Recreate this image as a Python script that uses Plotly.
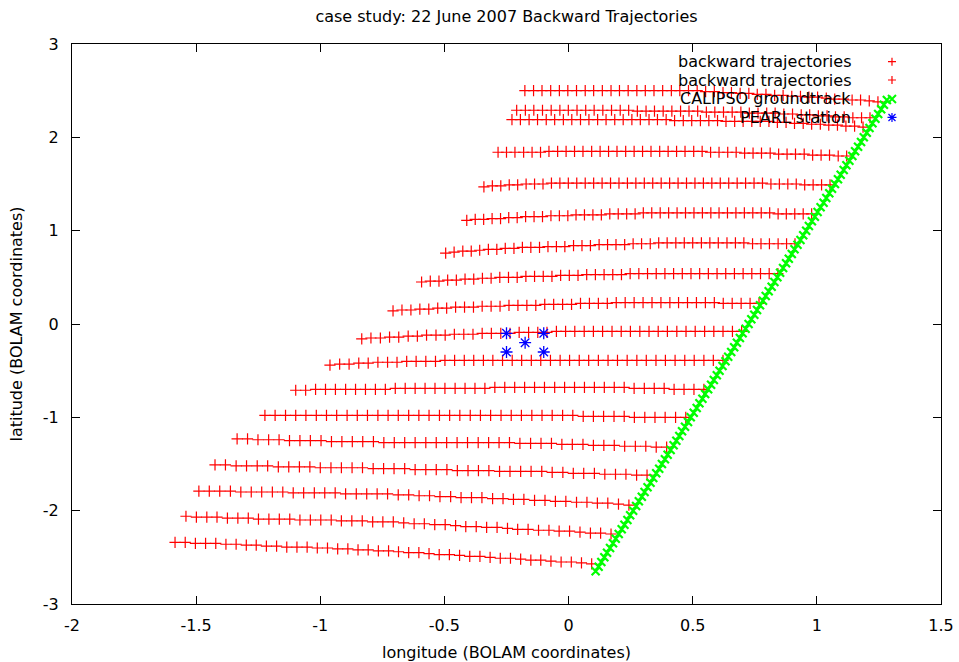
import plotly.graph_objects as go

# ---------------- data ----------------
r01x = [-0.176, -0.141, -0.107, -0.072, -0.037, -0.003, 0.032, 0.067, 0.101, 0.136, 0.171, 0.205, 0.240, 0.275, 0.309, 0.344, 0.379, 0.414, 0.448, 0.483, 0.518, 0.552, 0.587, 0.622, 0.656, 0.691, 0.726, 0.760, 0.795, 0.830, 0.864, 0.899, 0.934, 0.968, 1.003, 1.038, 1.072, 1.107, 1.142, 1.176, 1.211, 1.246]
r01y = [2.50, 2.50, 2.50, 2.50, 2.50, 2.50, 2.50, 2.50, 2.50, 2.50, 2.50, 2.50, 2.50, 2.50, 2.50, 2.50, 2.50, 2.50, 2.50, 2.50, 2.50, 2.49, 2.49, 2.48, 2.48, 2.47, 2.47, 2.46, 2.46, 2.45, 2.45, 2.44, 2.44, 2.43, 2.43, 2.42, 2.41, 2.41, 2.40, 2.40, 2.39, 2.38]

r02x = [-0.209, -0.174, -0.140, -0.105, -0.070, -0.035, -0.001, 0.034, 0.069, 0.103, 0.138, 0.173, 0.208, 0.242, 0.277, 0.312, 0.346, 0.381, 0.416, 0.451, 0.485, 0.520, 0.555, 0.589, 0.624, 0.659, 0.694, 0.728, 0.763, 0.798, 0.832, 0.867, 0.902, 0.937, 0.971, 1.006, 1.041, 1.075, 1.110, 1.145, 1.180, 1.214]
r02y = [2.29, 2.29, 2.29, 2.29, 2.29, 2.29, 2.29, 2.29, 2.29, 2.29, 2.29, 2.29, 2.29, 2.29, 2.28, 2.28, 2.28, 2.28, 2.28, 2.28, 2.28, 2.28, 2.27, 2.27, 2.27, 2.27, 2.27, 2.26, 2.26, 2.26, 2.26, 2.25, 2.25, 2.24, 2.24, 2.23, 2.23, 2.22, 2.22, 2.21, 2.21, 2.21]

r03x = [-0.228, -0.194, -0.159, -0.125, -0.090, -0.056, -0.021, 0.013, 0.048, 0.082, 0.117, 0.151, 0.186, 0.220, 0.255, 0.289, 0.324, 0.358, 0.393, 0.427, 0.462, 0.496, 0.531, 0.565, 0.600, 0.634, 0.669, 0.703, 0.738, 0.772, 0.807, 0.841, 0.876, 0.910, 0.945, 0.979, 1.014, 1.048, 1.083, 1.117, 1.152, 1.186]
r03y = [2.19, 2.19, 2.19, 2.19, 2.19, 2.19, 2.19, 2.19, 2.19, 2.19, 2.19, 2.19, 2.19, 2.19, 2.19, 2.19, 2.19, 2.19, 2.19, 2.18, 2.18, 2.18, 2.18, 2.18, 2.18, 2.17, 2.17, 2.17, 2.17, 2.17, 2.17, 2.16, 2.16, 2.15, 2.15, 2.14, 2.14, 2.13, 2.13, 2.12, 2.12, 2.11]

r04x = [-0.284, -0.250, -0.216, -0.181, -0.147, -0.113, -0.079, -0.044, -0.010, 0.024, 0.058, 0.093, 0.127, 0.161, 0.195, 0.230, 0.264, 0.298, 0.332, 0.367, 0.401, 0.435, 0.469, 0.504, 0.538, 0.572, 0.606, 0.641, 0.675, 0.709, 0.743, 0.777, 0.812, 0.846, 0.880, 0.914, 0.949, 0.983, 1.017, 1.051, 1.086, 1.120]
r04y = [1.84, 1.84, 1.84, 1.84, 1.84, 1.84, 1.85, 1.85, 1.85, 1.85, 1.85, 1.85, 1.85, 1.85, 1.85, 1.85, 1.85, 1.85, 1.85, 1.85, 1.85, 1.85, 1.85, 1.85, 1.85, 1.84, 1.84, 1.84, 1.84, 1.83, 1.83, 1.83, 1.83, 1.82, 1.82, 1.82, 1.82, 1.81, 1.81, 1.81, 1.80, 1.80]

r05x = [-0.341, -0.307, -0.273, -0.239, -0.205, -0.171, -0.137, -0.103, -0.069, -0.035, -0.001, 0.033, 0.067, 0.101, 0.135, 0.169, 0.203, 0.237, 0.271, 0.305, 0.339, 0.373, 0.407, 0.441, 0.475, 0.509, 0.543, 0.577, 0.611, 0.645, 0.679, 0.713, 0.747, 0.781, 0.815, 0.849, 0.883, 0.917, 0.951, 0.985, 1.019, 1.053]
r05y = [1.47, 1.48, 1.48, 1.49, 1.49, 1.50, 1.50, 1.50, 1.51, 1.51, 1.51, 1.51, 1.51, 1.51, 1.51, 1.51, 1.51, 1.51, 1.51, 1.51, 1.51, 1.51, 1.51, 1.51, 1.51, 1.51, 1.51, 1.51, 1.51, 1.51, 1.51, 1.51, 1.51, 1.51, 1.50, 1.50, 1.50, 1.50, 1.49, 1.49, 1.49, 1.49]

r06x = [-0.410, -0.376, -0.342, -0.308, -0.274, -0.241, -0.207, -0.173, -0.139, -0.105, -0.071, -0.037, -0.003, 0.030, 0.064, 0.098, 0.132, 0.166, 0.200, 0.234, 0.268, 0.301, 0.335, 0.369, 0.403, 0.437, 0.471, 0.505, 0.539, 0.573, 0.606, 0.640, 0.674, 0.708, 0.742, 0.776, 0.810, 0.844, 0.877, 0.911, 0.945, 0.979]
r06y = [1.11, 1.12, 1.12, 1.13, 1.13, 1.14, 1.14, 1.15, 1.15, 1.15, 1.16, 1.16, 1.16, 1.17, 1.17, 1.17, 1.17, 1.18, 1.18, 1.18, 1.18, 1.19, 1.19, 1.19, 1.19, 1.19, 1.19, 1.19, 1.19, 1.19, 1.19, 1.19, 1.19, 1.19, 1.19, 1.19, 1.19, 1.18, 1.18, 1.18, 1.18, 1.18]

r07x = [-0.495, -0.461, -0.426, -0.392, -0.358, -0.323, -0.289, -0.255, -0.220, -0.186, -0.152, -0.117, -0.083, -0.049, -0.015, 0.020, 0.054, 0.088, 0.123, 0.157, 0.191, 0.226, 0.260, 0.294, 0.329, 0.363, 0.397, 0.432, 0.466, 0.500, 0.535, 0.569, 0.603, 0.638, 0.672, 0.706, 0.741, 0.775, 0.809, 0.844, 0.878, 0.912]
r07y = [0.76, 0.77, 0.78, 0.78, 0.79, 0.80, 0.80, 0.81, 0.81, 0.82, 0.82, 0.82, 0.83, 0.83, 0.83, 0.84, 0.84, 0.84, 0.85, 0.85, 0.85, 0.85, 0.86, 0.86, 0.86, 0.87, 0.87, 0.87, 0.87, 0.87, 0.87, 0.87, 0.87, 0.87, 0.87, 0.87, 0.86, 0.86, 0.86, 0.86, 0.86, 0.86]

r08x = [-0.592, -0.557, -0.522, -0.487, -0.452, -0.417, -0.382, -0.347, -0.312, -0.277, -0.242, -0.207, -0.172, -0.137, -0.102, -0.067, -0.032, 0.003, 0.038, 0.073, 0.108, 0.143, 0.178, 0.213, 0.248, 0.283, 0.318, 0.353, 0.388, 0.423, 0.458, 0.493, 0.528, 0.563, 0.598, 0.633, 0.668, 0.703, 0.738, 0.773, 0.808, 0.843]
r08y = [0.45, 0.46, 0.46, 0.47, 0.47, 0.48, 0.48, 0.49, 0.49, 0.50, 0.50, 0.50, 0.51, 0.51, 0.51, 0.51, 0.52, 0.52, 0.52, 0.53, 0.53, 0.53, 0.53, 0.53, 0.54, 0.54, 0.54, 0.54, 0.54, 0.54, 0.54, 0.54, 0.54, 0.54, 0.54, 0.54, 0.54, 0.54, 0.54, 0.54, 0.54, 0.54]

r09x = [-0.707, -0.671, -0.635, -0.599, -0.563, -0.527, -0.491, -0.455, -0.419, -0.383, -0.348, -0.312, -0.276, -0.240, -0.204, -0.168, -0.132, -0.096, -0.060, -0.024, 0.012, 0.048, 0.084, 0.120, 0.156, 0.192, 0.228, 0.264, 0.300, 0.336, 0.372, 0.408, 0.443, 0.479, 0.515, 0.551, 0.587, 0.623, 0.659, 0.695, 0.731, 0.767]
r09y = [0.14, 0.15, 0.15, 0.16, 0.16, 0.17, 0.17, 0.18, 0.18, 0.18, 0.19, 0.19, 0.19, 0.20, 0.20, 0.20, 0.20, 0.21, 0.21, 0.21, 0.21, 0.22, 0.22, 0.22, 0.22, 0.23, 0.23, 0.23, 0.23, 0.23, 0.23, 0.23, 0.23, 0.23, 0.23, 0.23, 0.23, 0.22, 0.22, 0.22, 0.22, 0.22]

r10x = [-0.833, -0.796, -0.758, -0.721, -0.684, -0.646, -0.609, -0.572, -0.534, -0.497, -0.460, -0.422, -0.385, -0.348, -0.311, -0.273, -0.236, -0.199, -0.161, -0.124, -0.087, -0.049, -0.012, 0.025, 0.063, 0.100, 0.137, 0.175, 0.212, 0.249, 0.287, 0.324, 0.361, 0.398, 0.436, 0.473, 0.510, 0.548, 0.585, 0.622, 0.660, 0.697]
r10y = [-0.16, -0.15, -0.15, -0.14, -0.14, -0.13, -0.13, -0.12, -0.12, -0.12, -0.11, -0.11, -0.11, -0.10, -0.10, -0.10, -0.10, -0.09, -0.09, -0.09, -0.09, -0.08, -0.08, -0.08, -0.08, -0.08, -0.08, -0.08, -0.08, -0.08, -0.08, -0.08, -0.08, -0.08, -0.08, -0.08, -0.08, -0.08, -0.08, -0.08, -0.08, -0.08]

r11x = [-0.961, -0.922, -0.884, -0.845, -0.807, -0.768, -0.729, -0.691, -0.652, -0.614, -0.575, -0.536, -0.498, -0.459, -0.420, -0.382, -0.343, -0.305, -0.266, -0.227, -0.189, -0.150, -0.112, -0.073, -0.034, 0.004, 0.043, 0.081, 0.120, 0.159, 0.197, 0.236, 0.275, 0.313, 0.352, 0.390, 0.429, 0.468, 0.506, 0.545, 0.583, 0.622]
r11y = [-0.44, -0.43, -0.43, -0.42, -0.42, -0.41, -0.41, -0.41, -0.40, -0.40, -0.40, -0.40, -0.39, -0.39, -0.39, -0.39, -0.39, -0.39, -0.39, -0.39, -0.39, -0.39, -0.39, -0.39, -0.39, -0.39, -0.39, -0.39, -0.39, -0.39, -0.39, -0.39, -0.39, -0.39, -0.39, -0.39, -0.39, -0.39, -0.39, -0.39, -0.39, -0.39]

r12x = [-1.099, -1.059, -1.019, -0.979, -0.939, -0.898, -0.858, -0.818, -0.778, -0.738, -0.698, -0.658, -0.618, -0.578, -0.538, -0.498, -0.457, -0.417, -0.377, -0.337, -0.297, -0.257, -0.217, -0.177, -0.137, -0.097, -0.056, -0.016, 0.024, 0.064, 0.104, 0.144, 0.184, 0.224, 0.264, 0.305, 0.345, 0.385, 0.425, 0.465, 0.505, 0.545]
r12y = [-0.71, -0.71, -0.70, -0.70, -0.70, -0.70, -0.70, -0.70, -0.70, -0.70, -0.69, -0.69, -0.69, -0.69, -0.69, -0.69, -0.69, -0.69, -0.69, -0.69, -0.68, -0.68, -0.68, -0.68, -0.68, -0.68, -0.68, -0.68, -0.68, -0.68, -0.68, -0.68, -0.68, -0.68, -0.69, -0.69, -0.69, -0.69, -0.70, -0.70, -0.70, -0.70]

r13x = [-1.223, -1.182, -1.140, -1.099, -1.058, -1.016, -0.975, -0.934, -0.892, -0.851, -0.810, -0.768, -0.727, -0.686, -0.644, -0.603, -0.562, -0.520, -0.479, -0.438, -0.396, -0.355, -0.314, -0.272, -0.231, -0.190, -0.148, -0.107, -0.066, -0.024, 0.017, 0.059, 0.100, 0.141, 0.183, 0.224, 0.265, 0.307, 0.348, 0.389, 0.431, 0.472]
r13y = [-0.98, -0.98, -0.98, -0.98, -0.98, -0.98, -0.98, -0.98, -0.98, -0.98, -0.98, -0.98, -0.98, -0.98, -0.98, -0.98, -0.98, -0.98, -0.98, -0.98, -0.98, -0.98, -0.98, -0.98, -0.98, -0.98, -0.98, -0.98, -0.98, -0.98, -0.98, -0.99, -0.99, -0.99, -0.99, -0.99, -1.00, -1.00, -1.00, -1.00, -1.00, -1.00]

r14x = [-1.335, -1.293, -1.251, -1.208, -1.166, -1.124, -1.082, -1.040, -0.997, -0.955, -0.913, -0.871, -0.829, -0.786, -0.744, -0.702, -0.660, -0.618, -0.575, -0.533, -0.491, -0.449, -0.407, -0.364, -0.322, -0.280, -0.238, -0.196, -0.153, -0.111, -0.069, -0.027, 0.015, 0.058, 0.100, 0.142, 0.184, 0.226, 0.269, 0.311, 0.353, 0.395]
r14y = [-1.23, -1.23, -1.24, -1.24, -1.24, -1.25, -1.25, -1.25, -1.25, -1.26, -1.26, -1.26, -1.26, -1.26, -1.27, -1.27, -1.27, -1.27, -1.27, -1.27, -1.27, -1.27, -1.27, -1.27, -1.27, -1.27, -1.27, -1.28, -1.28, -1.28, -1.28, -1.29, -1.29, -1.29, -1.30, -1.30, -1.30, -1.31, -1.31, -1.31, -1.32, -1.32]

r15x = [-1.424, -1.382, -1.339, -1.297, -1.254, -1.212, -1.169, -1.127, -1.084, -1.042, -1.000, -0.957, -0.915, -0.872, -0.830, -0.787, -0.745, -0.703, -0.660, -0.618, -0.575, -0.533, -0.490, -0.448, -0.405, -0.363, -0.321, -0.278, -0.236, -0.193, -0.151, -0.108, -0.066, -0.023, 0.019, 0.061, 0.104, 0.146, 0.189, 0.231, 0.274, 0.316]
r15y = [-1.51, -1.51, -1.52, -1.52, -1.52, -1.52, -1.53, -1.53, -1.53, -1.53, -1.54, -1.54, -1.54, -1.54, -1.54, -1.55, -1.55, -1.55, -1.55, -1.56, -1.56, -1.56, -1.56, -1.57, -1.57, -1.57, -1.57, -1.58, -1.58, -1.58, -1.58, -1.58, -1.59, -1.59, -1.60, -1.60, -1.60, -1.61, -1.61, -1.61, -1.62, -1.62]

r16x = [-1.489, -1.447, -1.405, -1.362, -1.320, -1.278, -1.236, -1.193, -1.151, -1.109, -1.067, -1.024, -0.982, -0.940, -0.898, -0.855, -0.813, -0.771, -0.729, -0.686, -0.644, -0.602, -0.560, -0.518, -0.475, -0.433, -0.391, -0.349, -0.306, -0.264, -0.222, -0.180, -0.137, -0.095, -0.053, -0.011, 0.032, 0.074, 0.116, 0.158, 0.201, 0.243]
r16y = [-1.79, -1.79, -1.79, -1.79, -1.80, -1.80, -1.80, -1.80, -1.80, -1.81, -1.81, -1.81, -1.81, -1.81, -1.82, -1.82, -1.82, -1.82, -1.82, -1.83, -1.83, -1.84, -1.84, -1.85, -1.85, -1.86, -1.86, -1.86, -1.87, -1.87, -1.88, -1.88, -1.89, -1.89, -1.90, -1.90, -1.91, -1.91, -1.92, -1.92, -1.93, -1.94]

r17x = [-1.541, -1.499, -1.457, -1.416, -1.374, -1.332, -1.290, -1.249, -1.207, -1.165, -1.123, -1.082, -1.040, -0.998, -0.956, -0.915, -0.873, -0.831, -0.789, -0.748, -0.706, -0.664, -0.622, -0.581, -0.539, -0.497, -0.455, -0.414, -0.372, -0.330, -0.288, -0.246, -0.205, -0.163, -0.121, -0.079, -0.038, 0.004, 0.046, 0.088, 0.129, 0.171]
r17y = [-2.06, -2.07, -2.07, -2.07, -2.08, -2.08, -2.08, -2.09, -2.09, -2.09, -2.09, -2.10, -2.10, -2.10, -2.10, -2.11, -2.11, -2.11, -2.12, -2.12, -2.12, -2.13, -2.14, -2.14, -2.15, -2.15, -2.16, -2.17, -2.17, -2.18, -2.18, -2.19, -2.20, -2.20, -2.21, -2.21, -2.22, -2.22, -2.23, -2.24, -2.24, -2.25]

r18x = [-1.585, -1.544, -1.503, -1.462, -1.421, -1.380, -1.339, -1.298, -1.258, -1.217, -1.176, -1.135, -1.094, -1.053, -1.012, -0.971, -0.930, -0.889, -0.848, -0.807, -0.766, -0.725, -0.685, -0.644, -0.603, -0.562, -0.521, -0.480, -0.439, -0.398, -0.357, -0.316, -0.275, -0.234, -0.193, -0.152, -0.112, -0.071, -0.030, 0.011, 0.052, 0.093]
r18y = [-2.34, -2.34, -2.35, -2.35, -2.35, -2.36, -2.36, -2.37, -2.37, -2.38, -2.38, -2.39, -2.39, -2.39, -2.40, -2.40, -2.41, -2.41, -2.42, -2.42, -2.43, -2.43, -2.44, -2.45, -2.45, -2.46, -2.47, -2.47, -2.48, -2.49, -2.49, -2.50, -2.51, -2.51, -2.52, -2.53, -2.53, -2.54, -2.55, -2.55, -2.56, -2.57]

calipso_x = [0.109, 0.121, 0.132, 0.144, 0.155, 0.167, 0.179, 0.190, 0.202, 0.214, 0.225, 0.237, 0.248, 0.260, 0.272, 0.283, 0.295, 0.306, 0.318, 0.330, 0.341, 0.353, 0.365, 0.376, 0.388, 0.399, 0.411, 0.423, 0.434, 0.446, 0.457, 0.469, 0.481, 0.492, 0.504, 0.516, 0.527, 0.539, 0.550, 0.562, 0.574, 0.585, 0.597, 0.608, 0.620, 0.632, 0.643, 0.655, 0.667, 0.678, 0.690, 0.701, 0.713, 0.725, 0.736, 0.748, 0.759, 0.771, 0.783, 0.794, 0.806, 0.818, 0.829, 0.841, 0.852, 0.864, 0.876, 0.887, 0.899, 0.910, 0.922, 0.934, 0.945, 0.957, 0.968, 0.980, 0.992, 1.003, 1.015, 1.027, 1.038, 1.050, 1.061, 1.073, 1.085, 1.096, 1.108, 1.119, 1.131, 1.143, 1.154, 1.166, 1.178, 1.189, 1.201, 1.212, 1.224, 1.236, 1.247, 1.259, 1.270, 1.282]
calipso_y = [-2.65, -2.60, -2.55, -2.50, -2.45, -2.40, -2.35, -2.30, -2.25, -2.20, -2.15, -2.10, -2.05, -2.00, -1.95, -1.90, -1.85, -1.80, -1.75, -1.70, -1.65, -1.60, -1.55, -1.50, -1.45, -1.40, -1.35, -1.30, -1.25, -1.20, -1.15, -1.10, -1.05, -1.00, -0.95, -0.90, -0.85, -0.80, -0.75, -0.70, -0.65, -0.60, -0.55, -0.50, -0.45, -0.40, -0.35, -0.30, -0.25, -0.20, -0.15, -0.10, -0.05, 0.00, 0.05, 0.10, 0.15, 0.20, 0.25, 0.30, 0.35, 0.40, 0.45, 0.50, 0.55, 0.60, 0.65, 0.70, 0.75, 0.80, 0.85, 0.90, 0.95, 1.00, 1.05, 1.10, 1.15, 1.20, 1.25, 1.30, 1.35, 1.40, 1.45, 1.50, 1.55, 1.60, 1.65, 1.70, 1.75, 1.80, 1.85, 1.90, 1.95, 2.00, 2.05, 2.10, 2.15, 2.20, 2.25, 2.30, 2.35, 2.40]

pearl_x = [-0.25, -0.10, -0.175, -0.25, -0.10]
pearl_y = [-0.10, -0.10, -0.20, -0.30, -0.30]

x_ticks = [-2, -1.5, -1, -0.5, 0, 0.5, 1, 1.5]
y_ticks = [-3, -2, -1, 0, 1, 2, 3]

legend_names = ["backward trajectories", "backward trajectories", "CALIPSO groundtrack", "PEARL station"]

# two trajectory series (alternate rows)
set1 = [(r01x, r01y), (r03x, r03y), (r05x, r05y), (r07x, r07y), (r09x, r09y),
        (r11x, r11y), (r13x, r13y), (r15x, r15y), (r17x, r17y)]
set2 = [(r02x, r02y), (r04x, r04y), (r06x, r06y), (r08x, r08y), (r10x, r10y),
        (r12x, r12y), (r14x, r14y), (r16x, r16y), (r18x, r18y)]

def flatten(rows):
    xs, ys = [], []
    for rx, ry in rows:
        xs += rx
        ys += ry
    return xs, ys

s1x, s1y = flatten(set1)
s2x, s2y = flatten(set2)

RED = "#ff0000"
GREEN = "#00ff00"
BLUE = "#0000ff"
FONT = "DejaVu Sans"

fig = go.Figure()
cross = dict(symbol="cross-thin-open", size=8, color=RED, line=dict(width=1.2, color=RED))
fig.add_trace(go.Scatter(x=s1x, y=s1y, mode="markers", name=legend_names[0], marker=cross, showlegend=False))
fig.add_trace(go.Scatter(x=s2x, y=s2y, mode="markers", name=legend_names[1], marker=cross, showlegend=False))
fig.add_trace(go.Scatter(x=calipso_x, y=calipso_y, mode="markers", name=legend_names[2],
                         marker=dict(symbol="x-thin-open", size=8, color=GREEN, line=dict(width=2.2, color=GREEN)),
                         showlegend=False))
fig.add_trace(go.Scatter(x=pearl_x, y=pearl_y, mode="markers", name=legend_names[3],
                         marker=dict(symbol="asterisk-open", size=10, color=BLUE, line=dict(width=1.3, color=BLUE)),
                         showlegend=False))

# ---- gnuplot-style key: right-aligned text, sample symbol on the right ----
PW, PH = 869.0, 560.0
key_text_x = 0.8987
key_sym_x = 0.9436
key_rows_y = [0.9684, 0.9357, 0.9018, 0.8688]

def plus_path(cx, cy, r):
    dx, dy = r / PW, r / PH
    return f"M{cx-dx},{cy} L{cx+dx},{cy} M{cx},{cy-dy} L{cx},{cy+dy}"

def x_path(cx, cy, r):
    dx, dy = r / PW, r / PH
    return f"M{cx-dx},{cy-dy} L{cx+dx},{cy+dy} M{cx-dx},{cy+dy} L{cx+dx},{cy-dy}"

shapes = []
annotations = []
for name, yy in zip(legend_names, key_rows_y):
    annotations.append(dict(text=name, x=key_text_x, y=yy, xref="paper", yref="paper",
                            xanchor="right", yanchor="middle", showarrow=False,
                            font=dict(family=FONT, size=16, color="black")))
shapes.append(dict(type="path", xref="paper", yref="paper", path=plus_path(key_sym_x, key_rows_y[0], 4),
                   line=dict(color=RED, width=1.2)))
shapes.append(dict(type="path", xref="paper", yref="paper", path=plus_path(key_sym_x, key_rows_y[1], 4),
                   line=dict(color=RED, width=1.2)))
shapes.append(dict(type="path", xref="paper", yref="paper", path=x_path(key_sym_x, key_rows_y[2], 4),
                   line=dict(color=GREEN, width=2)))
shapes.append(dict(type="path", xref="paper", yref="paper",
                   path=plus_path(key_sym_x, key_rows_y[3], 4.5) + " " + x_path(key_sym_x, key_rows_y[3], 3.5),
                   line=dict(color=BLUE, width=1.2)))

fig.update_layout(
    width=959, height=662,
    margin=dict(l=72, r=18, t=44, b=58, autoexpand=False),
    paper_bgcolor="white", plot_bgcolor="white",
    font=dict(family=FONT, size=16, color="black"),
    title=dict(text="case study: 22 June 2007 Backward Trajectories",
               x=0.5, xref="paper", xanchor="center",
               y=1 - 16 / 662, yref="container", yanchor="middle",
               font=dict(family=FONT, size=16, color="black")),
    showlegend=False,
    shapes=shapes,
    annotations=annotations,
)

axis_common = dict(ticks="inside", ticklen=8, tickwidth=1, tickcolor="black",
                   showline=True, linecolor="black", linewidth=1, mirror="ticks",
                   showgrid=False, zeroline=False, automargin=False,
                   tickfont=dict(family=FONT, size=16, color="black"))

fig.update_xaxes(range=[-2, 1.5], tickvals=x_ticks, ticktext=[f"{v:g}" for v in x_ticks],
                 ticklabelstandoff=7,
                 title=dict(text="longitude (BOLAM coordinates)", standoff=12,
                            font=dict(family=FONT, size=16, color="black")),
                 **axis_common)
fig.update_yaxes(range=[-3, 3], tickvals=y_ticks, ticktext=[f"{v:g}" for v in y_ticks],
                 ticklabelstandoff=9,
                 title=dict(text="latitude (BOLAM coordinates)", standoff=16,
                            font=dict(family=FONT, size=16, color="black")),
                 **axis_common)

fig.write_html("out.html")
